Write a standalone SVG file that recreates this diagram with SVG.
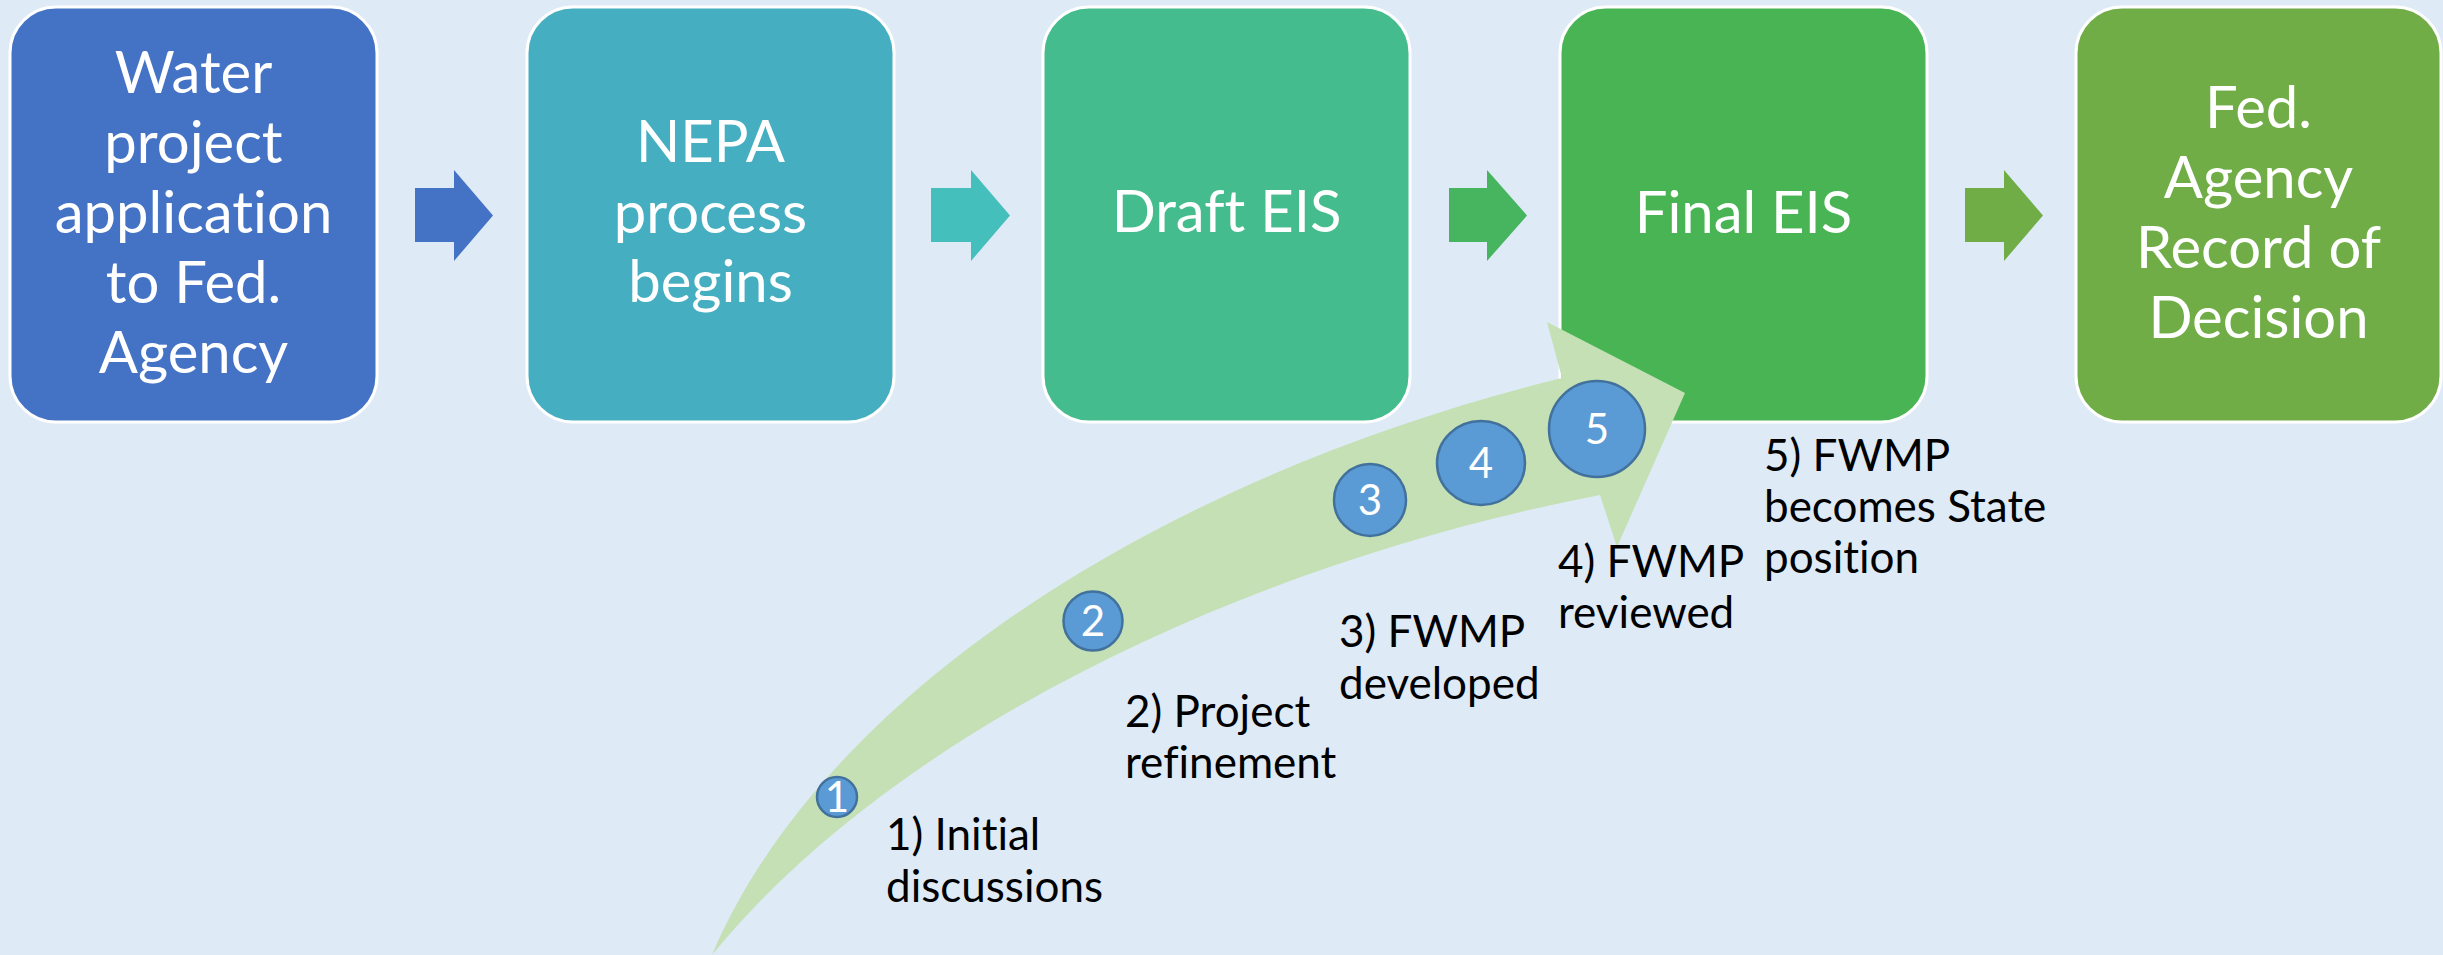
<svg xmlns="http://www.w3.org/2000/svg" width="2443" height="955" viewBox="0 0 2443 955">
<style>
text{font-variant-ligatures:none}
.box{stroke:#ffffff;stroke-width:3}
.bt{font-family:Lato,"Open Sans",sans-serif;font-size:58px;fill:#ffffff;text-anchor:middle}
.lb{font-family:Lato,"Open Sans",sans-serif;font-size:44px;fill:#000000}
.num{fill:#5B9BD5;stroke:#41719C;stroke-width:2.5}
.nt{font-family:Lato,"Open Sans",sans-serif;font-size:42px;fill:#ffffff;text-anchor:middle}
</style>
<rect width="2443" height="955" fill="#DEEAF6"/>
<g id="connectors">
<polygon points="415,188 454,188 454,170 493,215.5 454,261 454,242 415,242" fill="#4472C4"/>
<polygon points="931,188 971,188 971,170 1010,215.5 971,261 971,242 931,242" fill="#45BFBB"/>
<polygon points="1449,188 1487,188 1487,170 1527,215.5 1487,261 1487,242 1449,242" fill="#47B560"/>
<polygon points="1965,188 2004,188 2004,170 2043,215.5 2004,261 2004,242 1965,242" fill="#70AD47"/>
</g>
<g id="node1"><rect class="box" x="10" y="7" width="367" height="415" rx="46" fill="#4472C4"/>
<text class="bt" x="193.5" y="93">Water</text><text class="bt" x="193.5" y="163">project</text><text class="bt" x="193.5" y="233">application</text><text class="bt" x="193.5" y="303">to Fed.</text><text class="bt" x="193.5" y="373">Agency</text></g>
<g id="node2"><rect class="box" x="527" y="7" width="367" height="415" rx="46" fill="#46AEC1"/>
<text class="bt" x="710.5" y="162">NEPA</text><text class="bt" x="710.5" y="233">process</text><text class="bt" x="710.5" y="302">begins</text></g>
<g id="node3"><rect class="box" x="1043" y="7" width="367" height="415" rx="46" fill="#45BC8E"/>
<text class="bt" x="1226.5" y="232">Draft EIS</text></g>
<g id="node4"><rect class="box" x="1560" y="7" width="367" height="415" rx="46" fill="#48B454"/>
<text class="bt" x="1743.5" y="233">Final EIS</text></g>
<g id="node5"><rect class="box" x="2076" y="7" width="365" height="415" rx="46" fill="#70AD47"/>
<text class="bt" x="2258.5" y="128">Fed.</text><text class="bt" x="2258.5" y="198">Agency</text><text class="bt" x="2258.5" y="268">Record of</text><text class="bt" x="2258.5" y="338">Decision</text></g>
<g id="curved-arrow">
<path d="M712,955 C820,700 1150,480 1562,378 L1547,322 L1685,393 L1617,547 L1600,495 C1260,560 900,725 712,955 Z" fill="#C5E0B4"/>
</g>
<g id="step1"><circle class="num" cx="837" cy="797" r="20"/><text class="nt" x="837" y="812">1</text>
<text class="lb" x="886" y="850">1) Initial</text><text class="lb" x="886" y="902">discussions</text></g>
<g id="step2"><circle class="num" cx="1093" cy="621" r="29.5"/><text class="nt" x="1093" y="636">2</text>
<text class="lb" x="1125" y="727">2) Project</text><text class="lb" x="1125" y="778">refinement</text></g>
<g id="step3"><circle class="num" cx="1370" cy="500" r="36"/><text class="nt" x="1370" y="515">3</text>
<text class="lb" x="1339" y="647">3) FWMP</text><text class="lb" x="1339" y="699">developed</text></g>
<g id="step4"><ellipse class="num" cx="1481" cy="463" rx="44" ry="42"/><text class="nt" x="1481" y="478">4</text>
<text class="lb" x="1558" y="577">4) FWMP</text><text class="lb" x="1558" y="628">reviewed</text></g>
<g id="step5"><circle class="num" cx="1597" cy="429" r="48"/><text class="nt" x="1597" y="444">5</text>
<text class="lb" x="1764" y="471">5) FWMP</text><text class="lb" x="1764" y="522">becomes State</text><text class="lb" x="1764" y="573">position</text></g>
</svg>
